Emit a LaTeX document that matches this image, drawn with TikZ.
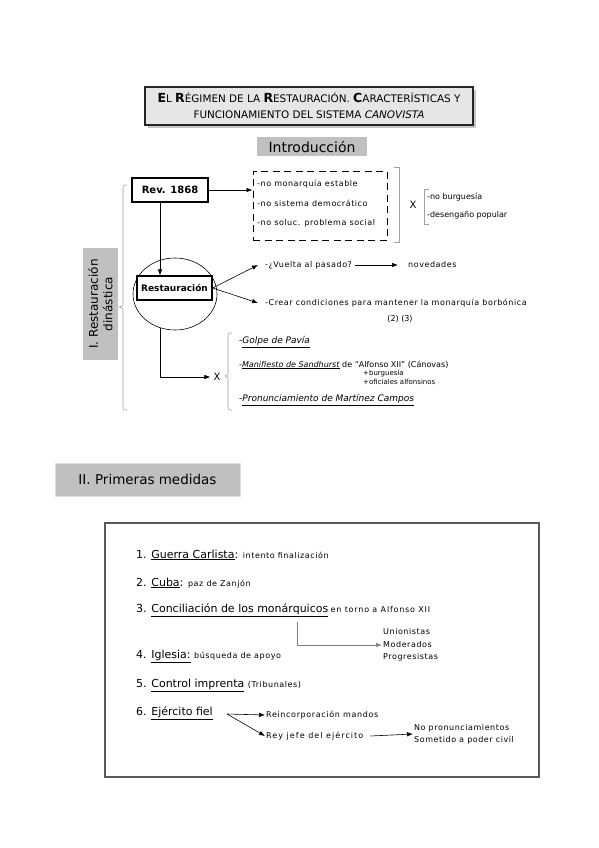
\documentclass[tikz,border=0pt]{standalone}
\usepackage{fontspec}
\setmainfont{DejaVu Sans}
\usetikzlibrary{arrows.meta,shapes.geometric,calc}
\definecolor{boxgray}{HTML}{C0C0C0}
\definecolor{titlefill}{HTML}{E6E6E6}
\definecolor{brk}{HTML}{A0A0A0}
\newcommand\capB[1]{{\fontsize{12.5}{14}\selectfont\bfseries #1}}
\newcommand\lsp[1]{\addfontfeatures{LetterSpace=#1}}
\newcommand\subt[1]{{\fontsize{8}{10}\selectfont\lsp{7}#1}}
\begin{document}
\begin{tikzpicture}[x=1pt,y=-1pt,
  txt0/.style={inner sep=1pt, anchor=west, font=\fontsize{8}{10}\selectfont},
  txt/.style={inner sep=1pt, anchor=west, font=\fontsize{8}{10}\selectfont\lsp{7}},
  itm/.style={inner sep=1pt, anchor=west, font=\fontsize{11}{13}\selectfont},
  arr/.style={-{Latex[length=6pt,width=4.5pt]}, line width=0.6pt},
  graybox/.style={fill=boxgray, inner sep=2pt},
  brack/.style={draw=brk, line width=0.6pt},
  boldbox/.style={draw, line width=1.2pt, fill=white, inner sep=0pt, font=\fontsize{10}{12}\selectfont\bfseries}
]
\useasboundingbox[fill=white] (0,0) rectangle (599,848);

% title
\fill[gray!45] (148,90) rectangle (476,128);
\node[draw=black!85, line width=1.4pt, fill=titlefill, minimum width=328pt, minimum height=38pt, align=center, inner sep=1pt, font=\fontsize{10.4}{16}\selectfont] (title) at (309,106)
  {\capB{E}L \capB{R}ÉGIMEN DE LA \capB{R}ESTAURACIÓN. \capB{C}ARACTERÍSTICAS Y\\FUNCIONAMIENTO DEL SISTEMA \textit{CANOVISTA}};

% Introduccion
\node[graybox, minimum width=110pt, minimum height=19pt, font=\fontsize{14}{16}\selectfont] (intro) at (312,146.5) {Introducción};

% Section I label
\node[graybox, rotate=90, minimum width=112pt, minimum height=35pt, align=center, font=\fontsize{12}{14.5}\selectfont] (secI) at (100.5,304) {I. Restauración\\dinástica};

% big brace
\draw[brack] (127,185) .. controls (123,185) .. (123,190) -- (123,302) .. controls (123,306) .. (119,307) .. controls (123,308) .. (123,312) -- (123,405) .. controls (123,410) .. (127,410);

% Rev 1868
\node[boldbox, minimum width=76pt, minimum height=24pt] (rev) at (170,190) {Rev. 1868};

% dashed box
\node[draw, dashed, dash pattern=on 7pt off 4.5pt, line width=1pt, minimum width=134pt, minimum height=69pt] (dbox) at (320,205.5) {};
\node[txt] (d1) at (256,184) {-no monarquía estable};
\node[txt] (d2) at (256,203.5) {-no sistema democrático};
\node[txt] (d3) at (256,223) {-no soluc. problema social};
\draw[arr] (rev.east) -- (rev.east -| dbox.west);

% right bracket, X, left bracket
\draw[brack] (394,167) -- (399,167) -- (399,242) -- (394,242);
\node[font=\fontsize{10}{12}\selectfont, inner sep=1pt] (x1) at (413,205) {X};
\draw[brack] (429,189) -- (424,189) -- (424,224) -- (429,224);
\node[txt0] (b1) at (426,197) {-no burguesía};
\node[txt0] (b2) at (426,215) {-desengaño popular};

% ellipse and Restauracion
\node[draw, ellipse, line width=0.6pt, minimum width=84pt, minimum height=72pt] (ell) at (175,294) {};
\node[boldbox, minimum width=75pt, minimum height=24pt, font=\fontsize{9}{11}\selectfont\bfseries] (resta) at (174.5,288) {Restauración};
\draw[arr] ([xshift=-10pt]rev.south) -- ([xshift=-14.5pt]resta.north);

% branches
\node[txt] (v1) at (264,265) {-¿Vuelta al pasado?};
\node[txt] (nov) at (407,265) {novedades};
\draw[arr] ([xshift=2pt]v1.east) -- ([xshift=-9pt]nov.west);
\node[txt] (c1) at (264,303) {-Crear condiciones para mantener la monarquía borbónica};
\node[txt0, anchor=center] (c2) at (400,319) {(2) (3)};
\draw[arr] (resta.east) -- ([xshift=-6pt]v1.west);
\draw[arr] (resta.east) -- ([xshift=-6pt]c1.west);

% lower X branch
\node[font=\fontsize{10}{12}\selectfont, inner sep=1pt] (x2) at (217,377) {X};
\draw[arr] (ell.246) |- ([xshift=-2pt]x2.west);
\draw[brack] (232,333) .. controls (228,333) .. (228,338) -- (228,371) .. controls (228,375) .. (225,376) .. controls (228,377) .. (228,381) -- (228,405) .. controls (228,410) .. (232,410);
\node[txt0, font=\fontsize{9}{11}\selectfont] (g1) at (238,342) {-\underline{\textit{Golpe de Pavía}}};
\node[txt0] (g2) at (238,365) {-\underline{\textit{Manifiesto de Sandhurst}} de "Alfonso XII" (Cánovas)};
\node[txt0, font=\fontsize{7}{8}\selectfont] (g3) at (362,373) {+burguesía};
\node[txt0, font=\fontsize{7}{8}\selectfont] (g4) at (362,382) {+oficiales alfonsinos};
\node[txt0, font=\fontsize{9}{11}\selectfont] (g5) at (238,400) {-\underline{\textit{Pronunciamiento de Martínez Campos}}};

% Section II
\node[graybox, draw=gray!25, minimum width=185pt, minimum height=33pt, font=\fontsize{13.5}{16}\selectfont] (secII) at (147.5,479.5) {II. Primeras medidas};

\node[draw=black!65, line width=1.5pt, minimum width=434pt, minimum height=254pt] (big) at (322,650) {};

\node[itm] (i1) at (135,555) {1. \underline{Guerra Carlista}: \subt{intento finalización}};
\node[itm] (i2) at (135,583) {2. \underline{Cuba}: \subt{paz de Zanjón}};
\node[itm] (i3) at (135,610) {3. \underline{Conciliación de los monárquicos}};
\node[txt, font=\fontsize{8}{10}\selectfont\lsp{10}] (i3b) at (i3.east) {en torno a Alfonso XII};
\coordinate (c3) at (297,622);
\node[txt, align=left, font=\fontsize{8}{12.5}\selectfont\lsp{7}] (uni) at (382,645) {Unionistas\\Moderados\\Progresistas};
\draw[arr, draw=gray] (c3) |- (uni.west);
\node[itm] (i4) at (135,656) {4. \underline{Iglesia:} \subt{búsqueda de apoyo}};
\node[itm] (i5) at (135,685) {5. \underline{Control imprenta} \subt{(Tribunales)}};
\node[itm] (i6) at (135,713) {6. \underline{Ejército fiel}};
\coordinate (ej) at (227,714);
\node[txt, font=\fontsize{8}{10}\selectfont\lsp{8}] (rm) at (265,715) {Reincorporación mandos};
\node[txt, font=\fontsize{8}{10}\selectfont\lsp{13}] (rj) at (265,736) {Rey jefe del ejército};
\draw[arr] (ej) -- (rm.west);
\draw[arr] (ej) -- (rj.west);
\node[txt, align=left, font=\fontsize{8}{12}\selectfont\lsp{7}] (np) at (413,734) {No pronunciamientos\\Sometido a poder civil};
\draw[arr] ([xshift=6pt]rj.east) -- (np.west);
\end{tikzpicture}
\end{document}
